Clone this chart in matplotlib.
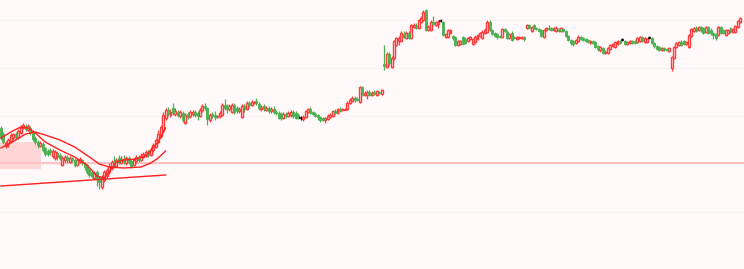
import numpy as np
import matplotlib.pyplot as plt
from matplotlib.patches import Rectangle

# --- OHLC bars (one row per stretch of the chart) ---
opens = [172,166,154,156,159,162,166,163,167,172,174,170,172,168,162,158,154,156,152,149,150,144,142,147,145,135,140,143,138,142,140,135,138,140,137,135,130,128,122,
         128,122,113,120,124,128,132,139,134,142,137,141,137,142,139,135,139,143,140,143,144,148,145,150,153,158,164,170,182,190,185,192,186,188,184,187,
         177,186,184,186,188,187,184,190,194,192,180,186,185,183,184,185,195,194,191,188,195,192,189,183,194,191,197,195,197,199,196,191,194,190,192,189,191,188,187,186,182,186,184,
         185,188,187,185,182,181,183,188,191,188,186,185,183,182,180,181,183,184,189,187,191,190,190,191,197,199,202,201,198,213,205,205,208,205,208,205,208,206,
         236,233,246,233,242,255,259,259,266,262,267,262,273,275,272,278,280,290,270,270,278,275,276,279,278,263,263,267,264,263,255,256,263,261,259,261,256,258,261,264,
         262,267,268,278,270,267,266,264,263,271,268,262,267,263,261,262,262,263,272,275,269,275,272,271,270,263,270,272,272,270,269,271,269,271,269,264,260,259,257,259,263,
         262,261,260,257,259,258,254,250,252,247,247,251,254,253,256,259,260,259,256,257,259,259,258,259,263,258,258,262,262,257,254,253,250,
         252,251,249,232,242,253,255,258,259,256,253,264,269,272,270,273,272,268,273,270,267,266,265,273,270,265,267,272,268,268,273,278]
highs = [174,168,159,162,167,167,168,171,175,177,176,176,174,170,164,160,159,158,153,151,152,151,150,149,147,144,145,145,144,143,142,142,143,141,138,136,132,130,129,
         130,124,125,130,132,137,140,144,142,145,144,145,144,144,141,142,145,145,147,148,150,150,153,157,162,170,175,188,192,193,191,197,192,190,190,189,
         187,188,190,190,190,189,192,196,197,193,187,188,189,185,189,197,201,196,196,197,197,194,193,196,196,199,199,200,199,202,198,195,196,194,194,193,194,190,189,188,188,188,189,
         190,190,189,187,184,185,190,192,193,189,188,186,184,183,183,186,187,190,191,192,193,192,192,199,202,204,204,203,214,214,209,210,210,209,210,210,209,211,
         255,248,248,244,260,263,264,269,269,269,269,276,277,277,281,284,290,291,275,280,284,279,280,281,279,267,271,271,265,264,260,260,264,263,263,264,262,265,266,268,
         270,272,280,280,271,268,267,265,272,272,270,267,269,264,264,264,264,264,276,276,274,276,273,272,271,271,273,275,273,273,274,272,273,272,270,265,261,260,261,265,264,
         263,262,261,260,260,259,255,254,253,250,253,256,257,259,260,260,262,260,259,260,260,260,263,264,264,263,262,264,263,258,255,254,253,
         253,252,253,244,254,258,259,260,260,259,266,272,273,274,274,274,273,274,274,272,268,267,274,274,271,271,271,273,272,275,280,283]
lows = [160,156,152,153,157,160,161,161,166,171,169,169,165,159,156,152,153,148,144,144,145,142,140,140,140,134,138,137,137,138,133,134,137,135,130,126,123,122,121,
        114,111,111,118,122,126,130,133,133,136,136,136,135,136,132,134,137,138,139,142,143,143,144,148,152,157,162,168,180,184,183,185,184,183,182,178,
        176,181,182,184,183,180,183,188,190,175,178,182,180,182,182,184,190,187,189,187,186,187,187,182,188,190,193,194,196,195,190,189,189,189,187,187,186,185,181,180,181,182,183,
        183,182,181,181,180,179,182,187,186,185,183,180,178,179,177,180,182,183,186,186,188,189,190,190,196,198,198,199,197,204,204,201,204,204,205,204,206,205,
        230,232,235,232,240,254,255,258,262,261,261,261,272,271,271,277,279,269,269,269,275,274,272,278,264,262,262,266,260,254,254,255,255,256,258,260,255,257,260,263,
        261,266,267,269,265,263,261,262,262,268,261,261,259,261,260,261,261,259,271,271,268,271,270,268,263,262,269,270,269,269,268,268,268,268,263,259,255,254,256,258,260,
        259,258,257,256,256,252,249,248,246,246,246,250,253,252,255,256,259,255,255,256,256,256,257,258,258,257,257,261,256,252,250,249,249,
        249,249,248,229,241,252,254,254,255,255,252,263,268,268,269,268,266,267,266,265,261,260,264,266,266,264,266,267,267,267,272,277]
closes = [162,158,157,160,165,166,163,169,173,175,171,174,167,161,158,155,157,150,146,146,148,149,148,143,142,142,143,140,142,140,135,140,141,137,133,128,125,124,127,
          122,118,122,128,130,134,138,135,140,138,141,138,142,138,133,140,143,140,144,146,148,145,150,155,160,166,173,185,190,186,188,187,189,185,188,180,
          185,183,188,188,185,184,190,194,192,181,185,184,183,184,187,195,192,191,194,195,188,189,191,194,191,197,195,198,198,197,192,193,191,192,189,191,188,187,182,182,186,184,187,
          188,184,182,183,182,183,189,191,187,186,184,183,180,180,182,184,185,189,187,191,189,191,191,197,200,202,200,200,213,205,207,208,205,207,206,209,207,210,
          234,246,237,242,259,262,262,267,263,267,262,275,275,272,280,282,288,270,273,278,276,278,278,279,265,266,270,270,262,255,259,259,256,257,262,263,261,263,265,267,
          268,270,278,270,266,264,263,263,271,269,262,266,260,262,263,263,263,261,275,272,273,272,271,269,264,270,272,271,270,272,272,269,272,269,264,260,257,256,260,263,261,
          260,259,258,259,257,253,251,253,247,248,252,255,256,258,259,257,260,256,258,259,257,257,262,263,259,262,261,262,257,254,251,250,252,
          250,250,252,243,253,257,258,255,256,258,265,271,272,269,273,270,267,273,267,267,265,262,273,267,267,270,270,268,271,274,279,282]

# indicator lines drawn over the first stretch (bar index -> value)
ma_long_idx = [0, 6, 10, 14, 18, 24, 30, 36, 40, 44, 50, 57, 61, 64, 67]
ma_long = [152, 160, 166, 168, 165, 160, 153, 143, 136, 133, 132, 133, 137, 142, 149]
ma_short_idx = [0, 4, 8, 11, 14, 18, 24, 30, 35, 39, 42, 44, 47, 50, 55, 59, 61, 64, 67]
ma_short = [162, 168, 173, 172, 167, 158, 150, 143, 135, 124, 122, 128, 138, 140, 141, 144, 150, 158, 172]
trend_idx = [0, 67]
trend = [114, 125]
zone_start, zone_end, zone_low, zone_high = 0, 16, 131, 158
level = 137.5
grid_levels = [88, 136, 184, 232, 280]

bg = '#fff9f9'
up_col = '#ff3b3b'
down_col = '#4caf50'
line_col = '#ff2020'

o = np.array(opens); h = np.array(highs); l = np.array(lows); c = np.array(closes)
x = np.arange(len(o))
up = c > o
down = c < o
flat = c == o

fig = plt.figure(figsize=(7.44, 2.69), dpi=100, facecolor=bg)
ax = fig.add_axes([0, 0, 1, 1])
ax.set_facecolor(bg)

for g in grid_levels:
    ax.axhline(g, color='#fdf2f2', lw=0.8, zorder=0)

ax.add_patch(Rectangle((zone_start - 0.5, zone_low), zone_end - zone_start + 0.8, zone_high - zone_low,
                       facecolor='#ffd6d6', edgecolor='none', zorder=1))
ax.axhline(level, color='#ffc2c2', lw=1.5, zorder=1)

# wicks
wick_cols = np.where(up, up_col, np.where(down, down_col, 'black'))
ax.vlines(x, l, h, colors=list(wick_cols), lw=0.9, zorder=2)

# bodies
w = 0.8
ax.bar(x[up], (c - o)[up], bottom=o[up], width=w, facecolor=bg, edgecolor=up_col, lw=1.0, zorder=3)
ax.bar(x[down], (o - c)[down], bottom=c[down], width=w, facecolor=down_col, edgecolor=down_col, lw=0.6, zorder=3)
ax.hlines(o[flat], x[flat] - w / 2 - 0.2, x[flat] + w / 2 + 0.2, colors='black', lw=1.1, zorder=3)

# indicator lines
ax.plot(ma_long_idx, ma_long, color=line_col, lw=1.0, zorder=4)
ax.plot(ma_short_idx, ma_short, color=line_col, lw=1.0, zorder=4)
ax.plot(trend_idx, trend, color=line_col, lw=1.0, zorder=4)

ax.set_xlim(-0.41, 302.5)
ax.set_ylim(31, 300)
ax.axis('off')

fig.savefig('out.png', dpi=100, facecolor=bg)
